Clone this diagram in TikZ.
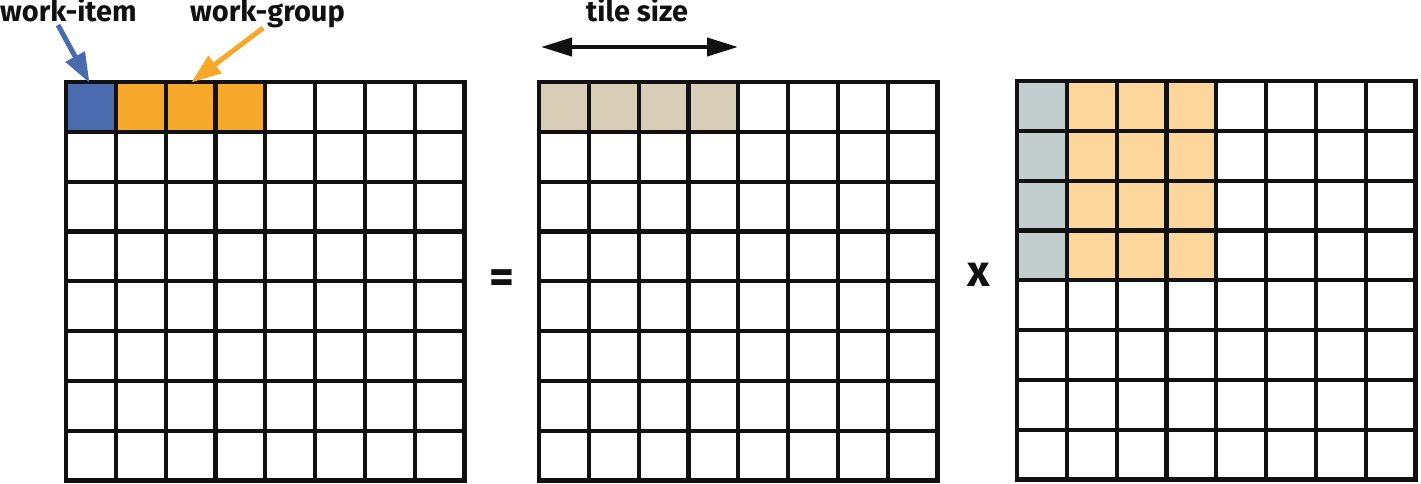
\documentclass[tikz,border=0pt]{standalone}
\usepackage{fontspec}
\setmainfont{Fira Sans}
\usetikzlibrary{arrows.meta}
\definecolor{wiblue}{RGB}{74,107,174}
\definecolor{wgorange}{RGB}{245,168,42}
\definecolor{lorange}{RGB}{253,214,156}
\definecolor{lgray}{RGB}{194,205,206}
\definecolor{tilemix}{RGB}{216,206,184}
\definecolor{ink}{RGB}{17,17,17}
\tikzset{
  lbl/.style={font=\fontsize{29}{32}\selectfont\bfseries, text=ink, inner sep=0pt, anchor=base west},
  gridline/.style={draw=ink, line width=4.2pt, line cap=rect},
  bigarrow/.style={line width=5pt, -{Triangle[length=30pt,width=21pt]}, shorten >=-1pt},
}
\newcommand{\mygrid}[2]{%
  \foreach \i in {0,...,8} {
    \draw[gridline] ({#1+\i*49.8},{#2}) -- ++(0,398.4);
    \draw[gridline] ({#1},{#2+\i*49.8}) -- ++(398.4,0);
  }%
}
\begin{document}
\begin{tikzpicture}[x=1pt,y=-1pt]
\useasboundingbox (0,0) rectangle (1421,484);
% left grid fills
\fill[wiblue] (66,82) rectangle ++(49.8,49.8);
\foreach \c in {1,2,3} \fill[wgorange] ({66+\c*49.8},82) rectangle ++(49.8,49.8);
% middle grid fills
\foreach \c in {0,...,3} \fill[tilemix] ({539+\c*49.8},82) rectangle ++(49.8,49.8);
% right grid fills
\foreach \r in {0,...,3} {
  \fill[lgray] (1017,{81+\r*49.8}) rectangle ++(49.8,49.8);
  \foreach \c in {1,2,3} \fill[lorange] ({1017+\c*49.8},{81+\r*49.8}) rectangle ++(49.8,49.8);
}
\mygrid{66}{82}
\mygrid{539}{82}
\mygrid{1017}{81}
% labels
\node[lbl] (wi) at (0,22) {work-item};
\node[lbl] (wg) at (190,22) {work-group};
\node[lbl] (ts) at (586,22) {tile size};
\coordinate (wiend) at (89,82);
\coordinate (wgend) at (192,82);
\draw[bigarrow, draw=wiblue, fill=wiblue] (58,25) -- (wiend);
\draw[bigarrow, draw=wgorange, fill=wgorange] (263,28) -- (wgend);
\coordinate (tsl) at (541,47);
\coordinate (tsr) at (738,47);
\draw[line width=4pt, draw=ink, {Triangle[length=31pt,width=18pt]}-{Triangle[length=31pt,width=18pt]}] (tsl) -- (tsr);
\node[font=\fontsize{48}{50}\selectfont\bfseries, text=ink, inner sep=0pt] (eq) at (502,282) {=};
\node[font=\fontsize{44}{46}\selectfont\bfseries, text=ink, inner sep=0pt] (times) at (979,275) {x};
\end{tikzpicture}
\end{document}
